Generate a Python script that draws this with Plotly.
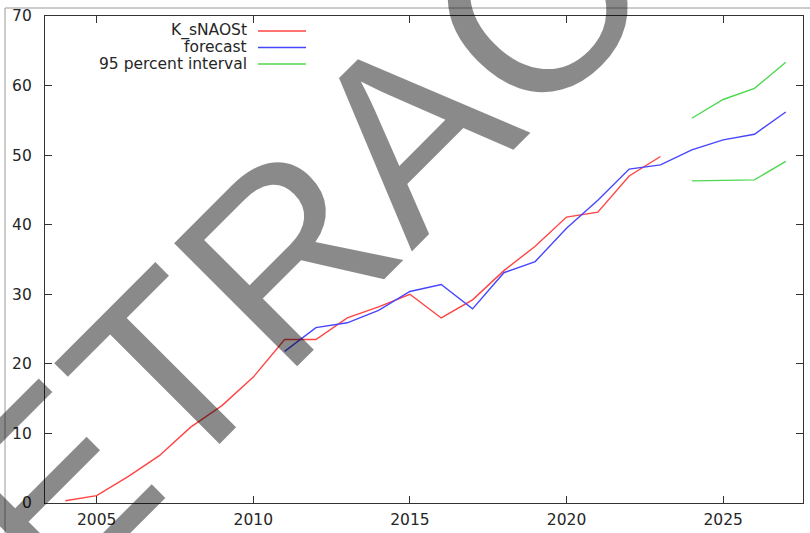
import plotly.graph_objects as go

# observed series K_sNAOSt
obs_years = list(range(2004, 2024))
obs_values = [0.33, 1.05, 3.8, 6.8, 10.9, 14.0, 18.1, 23.5, 23.5, 26.6, 28.2, 30.0,
              26.6, 29.2, 33.4, 36.9, 41.1, 41.8, 47.0, 49.8]

# model forecast
fc_years = list(range(2011, 2028))
fc_values = [21.8, 25.2, 25.9, 27.7, 30.4, 31.4, 27.9, 33.1, 34.7, 39.5, 43.5, 48.0,
             48.6, 50.75, 52.2, 53.0, 56.2]

# 95 percent interval for the forecast horizon
ci_years = [2024, 2025, 2026, 2027]
ci_upper = [55.3, 58.0, 59.6, 63.35]
ci_lower = [46.3, 46.35, 46.45, 49.1]

x_ticks = [2005, 2010, 2015, 2020, 2025]
y_ticks = [0, 10, 20, 30, 40, 50, 60, 70]

legend_labels = ["K_sNAOSt", "forecast", "95 percent interval"]
RED, BLUE, GREEN = "#ff4444", "#4646ff", "#4fd84f"
legend_colors = [RED, BLUE, GREEN]

W, H = 810, 533
ML, MR, MT, MB = 45, 7, 16, 30
PW, PH = W - ML - MR, H - MT - MB


def px_to_paper(px, py):
    return (px - ML) / PW, (H - MB - py) / PH


fig = go.Figure()
lw = 1.4
fig.add_trace(go.Scatter(x=obs_years, y=obs_values, mode="lines",
                         line=dict(color=RED, width=lw), showlegend=False))
fig.add_trace(go.Scatter(x=fc_years, y=fc_values, mode="lines",
                         line=dict(color=BLUE, width=lw), showlegend=False))
fig.add_trace(go.Scatter(x=ci_years, y=ci_upper, mode="lines",
                         line=dict(color=GREEN, width=lw), showlegend=False))
fig.add_trace(go.Scatter(x=ci_years, y=ci_lower, mode="lines",
                         line=dict(color=GREEN, width=lw), showlegend=False))

AX = "#333333"
TXT = "#262626"
FONT = "DejaVu Sans"
axis_common = dict(showline=True, linecolor=AX, linewidth=1.3, mirror="ticks",
                   ticks="inside", ticklen=7, tickwidth=1.2, tickcolor=AX,
                   showgrid=False, zeroline=False, automargin=False,
                   tickfont=dict(family=FONT, size=15.5, color=TXT))

shapes = []
annotations = []

# key: labels right-aligned with line samples to their right
for i, (lab, col) in enumerate(zip(legend_labels, legend_colors)):
    ry = 31 + i * 16.5
    x0, y0 = px_to_paper(258, ry)
    x1, _ = px_to_paper(306, ry)
    shapes.append(dict(type="line", xref="paper", yref="paper", x0=x0, x1=x1,
                       y0=y0, y1=y0, line=dict(color=col, width=1.4)))
    tx, ty = px_to_paper(249, ry)
    annotations.append(dict(text=lab, xref="paper", yref="paper", x=tx, y=ty,
                            xanchor="right", yanchor="middle", showarrow=False,
                            font=dict(family=FONT, size=15.5, color=TXT)))

# outer frame of the page
fx0, fy0 = px_to_paper(5, 8)
fx1, fy1 = px_to_paper(830, 560)
shapes.append(dict(type="rect", xref="paper", yref="paper", x0=fx0, x1=fx1,
                   y0=fy1, y1=fy0, line=dict(color="#9a9a9a", width=1),
                   layer="below"))

# diagonal stamp
sx, sy = px_to_paper(409, 130)
annotations.append(dict(text="RETRACTED", xref="paper", yref="paper", x=sx, y=sy,
                        xanchor="center", yanchor="middle", showarrow=False,
                        textangle=-45,
                        font=dict(family="Liberation Sans", size=253,
                                  color="rgba(0,0,0,0.46)")))

fig.update_layout(
    width=W, height=H,
    margin=dict(l=ML, r=MR, t=MT, b=MB, pad=0),
    paper_bgcolor="white", plot_bgcolor="white",
    xaxis=dict(range=[2003.35, 2027.55], tickvals=x_ticks,
               ticklabelstandoff=2, **axis_common),
    yaxis=dict(range=[0, 70], tickvals=y_ticks, ticklabelstandoff=9,
               **axis_common),
    shapes=shapes, annotations=annotations,
)

fig.write_html("out.html")
